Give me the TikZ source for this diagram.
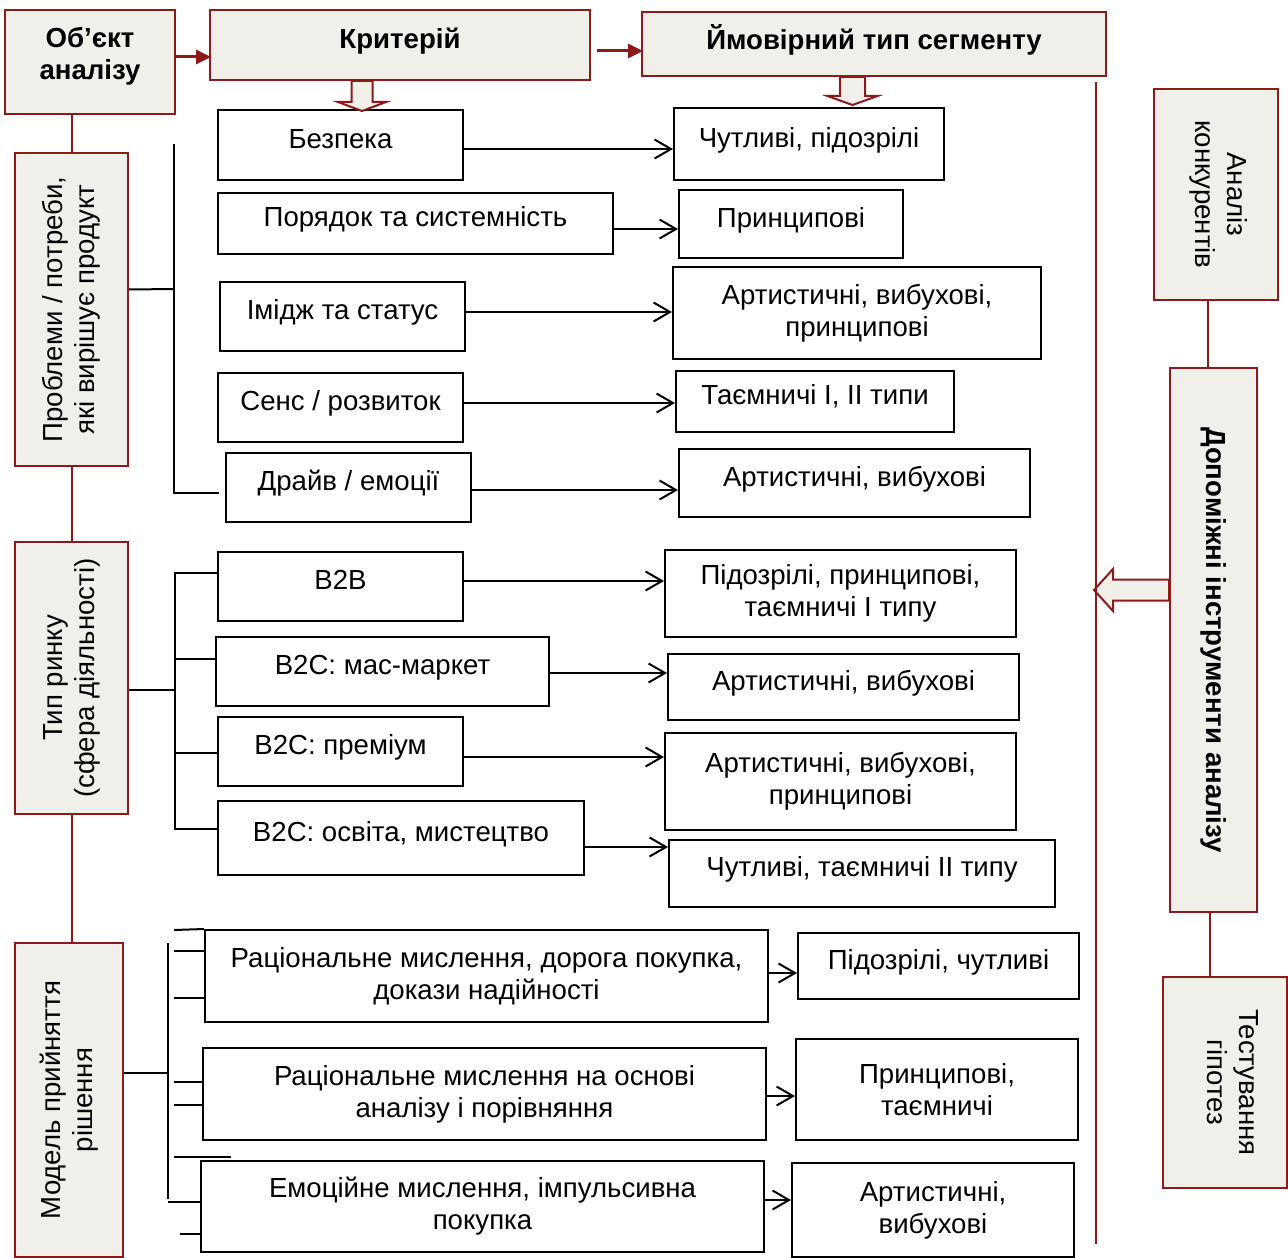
\documentclass[tikz,border=0pt]{standalone}
\usepackage{fontspec}
\setmainfont{Liberation Sans}
\usetikzlibrary{arrows.meta}
\definecolor{darkred}{RGB}{140,26,26}
\definecolor{paper}{RGB}{241,239,234}

\begin{document}
\begin{tikzpicture}[x=0.5pt, y=-0.5pt, auto]
    \tikzstyle{head box} = [draw=darkred, fill=paper, line width=1pt, inner sep=0pt, align=center, font=\fontsize{13.8}{16}\selectfont\bfseries]
    \tikzstyle{side box} = [head box, font=\fontsize{13.8}{16}\selectfont]
    \tikzstyle{two box} = [draw=black, fill=white, line width=1pt, inner sep=0pt, align=center, font=\fontsize{13.8}{16}\selectfont]
    \tikzstyle{one box} = [two box, text height=10pt, text depth=6.9pt]
    \tikzstyle{tree line} = [draw=black, line width=1pt]
    \tikzstyle{red line} = [draw=darkred, line width=1pt]
    \tikzstyle{seg arrow} = [tree line, -{Straight Barb[angle=60:9.5pt]}]
    \tikzstyle{head arrow} = [draw=darkred, line width=1.5pt, -{Triangle[length=7.5pt, width=7pt]}]
    \tikzstyle{block arrow} = [draw=darkred, fill=paper, line width=1pt]
\path[use as bounding box, fill=white] (0,0) rectangle (1288,1257);
\node[head box, minimum width=85pt, minimum height=52pt, text height=26pt, text depth=8.6pt] (obj) at (90,62) {Об’єкт\\аналізу};
\node[head box, minimum width=190pt, minimum height=35pt, text height=10pt, text depth=6.9pt] (crit) at (400,45) {Критерій};
\node[head box, minimum width=232pt, minimum height=32pt, text height=10pt, text depth=4.1pt] (seg) at (874,44) {Ймовірний тип сегменту};
\node[side box, rotate=90, minimum width=156.5pt, minimum height=56.5pt] (prob) at (71.5,309.5) {Проблеми / потреби,\\які вирішує продукт};
\node[side box, rotate=90, minimum width=136pt, minimum height=56.5pt] (rynok) at (71.5,678) {Тип ринку\\(сфера діяльності)};
\node[side box, rotate=90, minimum width=157pt, minimum height=54pt] (model) at (69,1100) {Модель прийняття\\рішення};
\node[side box, rotate=-90, minimum width=105.5pt, minimum height=62pt, text height=26pt, text depth=5.1pt] (konk) at (1216,194.5) {Аналіз\\конкурентів};
\node[side box, rotate=-90, minimum width=272pt, minimum height=43.5pt, font=\fontsize{13.8}{16}\selectfont\bfseries] (dop) at (1213.5,640) {Допоміжні інструменти аналізу};
\node[side box, rotate=-90, minimum width=105.5pt, minimum height=62pt, text height=26pt, text depth=8.6pt] (test) at (1225,1082.5) {Тестування\\гіпотез};
\node[one box, minimum width=122.5pt, minimum height=35pt] (bez) at (340.5,145) {Безпека};
\node[one box, minimum width=197.5pt, minimum height=30.5pt] (por) at (415.5,223.5) {Порядок та системність};
\node[one box, minimum width=122.5pt, minimum height=34.5pt] (imidzh) at (342.5,316.5) {Імідж та статус};
\node[one box, minimum width=122.5pt, minimum height=34.5pt] (sens) at (340.5,407.5) {Сенс / розвиток};
\node[one box, minimum width=122.5pt, minimum height=34.5pt] (drive) at (348.5,487.5) {Драйв / емоції};
\node[one box, minimum width=122.5pt, minimum height=34.5pt] (b2b) at (340.5,586.5) {B2B};
\node[one box, minimum width=166.5pt, minimum height=34.5pt] (mass) at (382.5,671.5) {B2C: мас-маркет};
\node[one box, minimum width=122.5pt, minimum height=34.5pt] (prem) at (340.5,751.5) {B2C: преміум};
\node[one box, minimum width=183pt, minimum height=37pt] (osv) at (401,838) {B2C: освіта, мистецтво};
\node[two box, minimum width=281.5pt, minimum height=46pt] (rac1) at (486.5,976) {Раціональне мислення, дорога покупка,\\докази надійності};
\node[two box, minimum width=281.5pt, minimum height=46pt] (rac2) at (484.5,1094) {Раціональне мислення на основі\\аналізу і порівняння};
\node[two box, minimum width=281.5pt, minimum height=45.5pt] (emo) at (482.5,1206.5) {Емоційне мислення, імпульсивна\\покупка};
\node[one box, minimum width=135pt, minimum height=36pt] (s1) at (809,144) {Чутливі, підозрілі};
\node[one box, minimum width=112pt, minimum height=34pt] (s2) at (791,224) {Принципові};
\node[two box, minimum width=184pt, minimum height=46pt] (s3) at (857,313) {Артистичні, вибухові,\\принципові};
\node[one box, minimum width=139pt, minimum height=30.5pt] (s4) at (815,401.5) {Таємничі I, II типи};
\node[one box, minimum width=175.5pt, minimum height=34pt] (s5) at (854.5,483) {Артистичні, вибухові};
\node[two box, minimum width=175.5pt, minimum height=43.5pt] (s6) at (840.5,593.5) {Підозрілі, принципові,\\таємничі I типу};
\node[one box, minimum width=175.5pt, minimum height=33pt] (s7) at (843.5,687) {Артистичні, вибухові};
\node[two box, minimum width=175.5pt, minimum height=48.5pt] (s8) at (840.5,781.5) {Артистичні, вибухові,\\принципові};
\node[one box, minimum width=193pt, minimum height=33.5pt] (s9) at (862,873.5) {Чутливі, таємничі II типу};
\node[one box, minimum width=140.5pt, minimum height=33pt] (s10) at (938.5,966) {Підозрілі, чутливі};
\node[two box, minimum width=141pt, minimum height=50.5pt] (s11) at (937,1089.5) {Принципові,\\таємничі};
\node[two box, minimum width=141pt, minimum height=47pt] (s12) at (933,1210) {Артистичні,\\вибухові};
\draw[head arrow] ([yshift=2.5pt]obj.east) -- ++(35,0);
\draw[head arrow] ([xshift=3pt, yshift=-3pt]crit.east) -- ++(46,0);
\draw[block arrow] ([xshift=-19pt]crit.south) ++(-10.5,0) -- ++(0,21) -- ++(-13.5,0) -- ++(24,9) -- ++(24,-9) -- ++(-13.5,0) -- ++(0,-21) -- cycle;
\draw[block arrow] ([xshift=-10.75pt]seg.south) ++(-12.5,0) -- ++(0,19) -- ++(-12.5,0) -- ++(25,9) -- ++(25,-9) -- ++(-12.5,0) -- ++(0,-19) -- cycle;
\draw[block arrow] (dop.south |- 0,579.5) -- ++(-56,0) -- ++(0,-10.5) -- ++(-19,21) -- ++(19,21) -- ++(0,-10.5) -- ++(56,0) -- cycle;
\coordinate (rtop) at (1096,82);
\coordinate (rbot) at (1096,1244);
\draw[red line] (rtop) -- (rbot);
\draw[red line] (obj.south -| prob) -- (prob);
\draw[red line] (prob) -- (rynok);
\draw[red line] (rynok) -- (rynok |- model.east);
\draw[red line] ([xshift=-3pt]konk.east -| dop) -- ([xshift=-3pt]dop.west);
\draw[red line] ([xshift=-2pt]dop.east) -- ([xshift=-2pt]dop.east |- test.west);
\foreach \a/\b/\y in {bez/s1/149, por/s2/229, imidzh/s3/312, sens/s4/403, drive/s5/490, b2b/s6/581, mass/s7/673, prem/s8/757, osv/s9/847, rac1/s10/973, rac2/s11/1096, emo/s12/1200}
    \draw[seg arrow] (\a.east |- 0,\y) -- (\b.west |- 0,\y);
\coordinate (bus1) at (174,289);
\coordinate (bus2) at (175,690);
\coordinate (bus3) at (168,1073);
\draw[tree line] ([yshift=10pt]prob.south) -- (bus1);
\draw[tree line] (bus1 |- 0,144) -- (bus1 |- 0,493) -- ([xshift=-3pt]drive.west |- 0,493);
\draw[tree line] ([yshift=-6pt]rynok.south) -- (bus2);
\draw[tree line] (b2b.west |- 0,573) -| (bus2 |- 0,829) -- (osv.west |- 0,829);
\foreach \y/\n in {659/mass, 753/prem}
    \draw[tree line] (bus2 |- 0,\y) -- (\n.west |- 0,\y);
\draw[tree line] ([yshift=13.5pt]model.south) -- (bus3);
\draw[tree line] (bus3 |- 0,943) -- (bus3 |- 0,1199);
\draw[tree line] (174,930) -- (rac1.north west);
\foreach \y/\n in {951/rac1, 998/rac1, 1082/rac2, 1105/rac2}
    \draw[tree line] (174,\y) -- (\n.west |- 0,\y);
\draw[tree line] (174,1157) -- ++(57,0);
\draw[tree line] (bus3 |- 0,1202) -- (emo.west |- 0,1202);
\draw[tree line] (180,1234) -- (emo.west |- 0,1234);
\end{tikzpicture}
\end{document}
